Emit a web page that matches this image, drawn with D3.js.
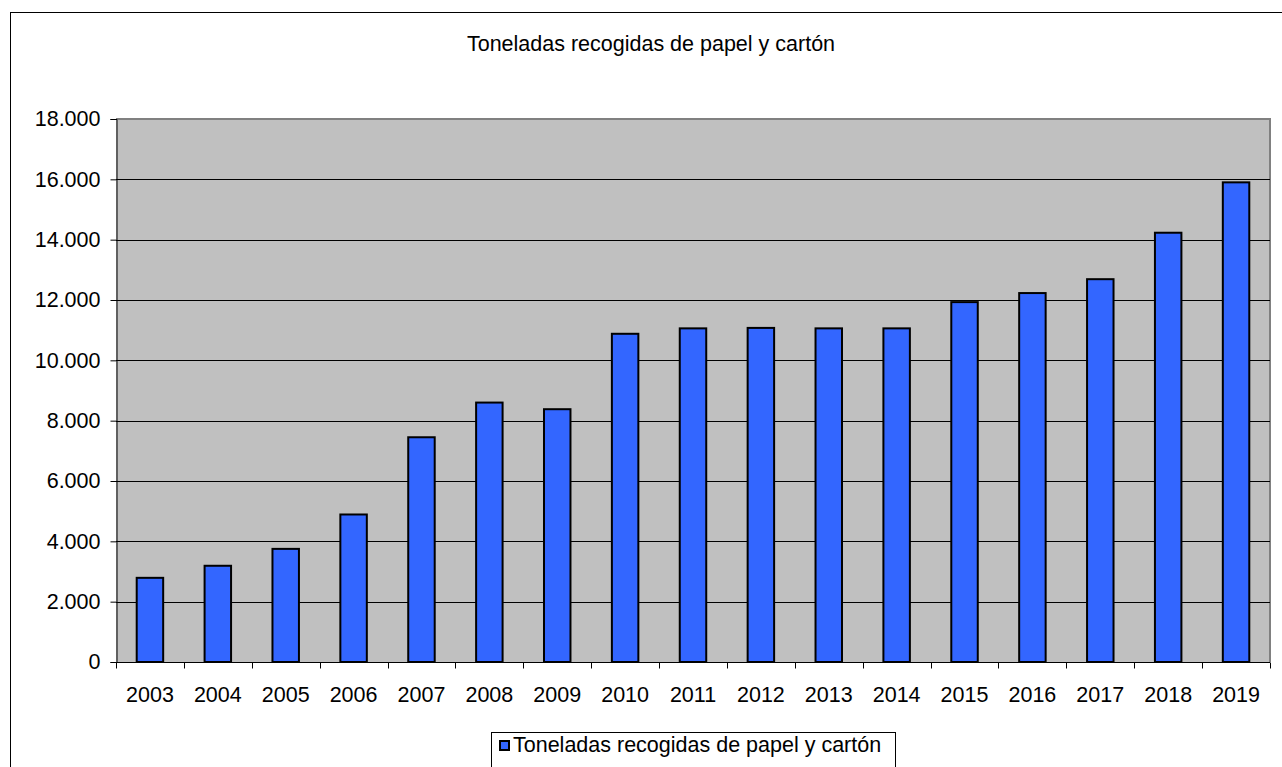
<!DOCTYPE html>
<html>
<head>
<meta charset="utf-8">
<script src="https://cdn.jsdelivr.net/npm/d3@7"></script>
<style>
  body { margin: 0; background: #fff; }
  svg { display: block; font-family: "Liberation Sans", Arial, sans-serif; }
</style>
</head>
<body>
<div id="chart"></div>
<script>
const titulo = "Toneladas recogidas de papel y cartón";
const anios = ["2003", "2004", "2005", "2006", "2007", "2008", "2009", "2010", "2011",
  "2012", "2013", "2014", "2015", "2016", "2017", "2018", "2019"];
const toneladas = [2790, 3190, 3750, 4890, 7450, 8600, 8380, 10880, 11060,
  11075, 11060, 11060, 11930, 12230, 12690, 14230, 15900];
const ticksY = [0, 2000, 4000, 6000, 8000, 10000, 12000, 14000, 16000, 18000];

const width = 1282;
const height = 767;
const plot = { left: 116, top: 119, right: 1270, bottom: 662 };
const tam = "21.5px";

const es = d3.formatLocale({ decimal: ",", thousands: ".", grouping: [3], currency: ["", " €"] });
const fmt = es.format(",d");

const svg = d3.select("#chart")
  .append("svg")
  .attr("width", width)
  .attr("height", height);

// marco exterior
svg.append("rect")
  .attr("x", 10.5).attr("y", 12.5)
  .attr("width", 1282).attr("height", 800)
  .attr("fill", "#fff")
  .attr("stroke", "#000");

svg.append("text")
  .attr("x", 651).attr("y", 51)
  .attr("text-anchor", "middle")
  .style("font-size", tam)
  .text(titulo);

const x = d3.scaleBand()
  .domain(anios)
  .range([plot.left, plot.right])
  .paddingInner(0.61)
  .paddingOuter(0.305);

const y = d3.scaleLinear()
  .domain([0, 18000])
  .range([plot.bottom, plot.top]);

// fondo del área de trazado
svg.append("rect")
  .attr("x", plot.left).attr("y", plot.top)
  .attr("width", plot.right - plot.left)
  .attr("height", plot.bottom - plot.top)
  .attr("fill", "#c0c0c0");

svg.append("path")
  .attr("d", `M${plot.left},${plot.top}H${plot.right}V${plot.bottom}`)
  .attr("fill", "none")
  .attr("stroke", "#808080")
  .attr("stroke-width", 2);

// líneas de división
svg.append("g")
  .selectAll("line")
  .data(ticksY.filter(d => d > 0 && d < 18000))
  .enter()
  .append("line")
  .attr("x1", plot.left).attr("x2", plot.right)
  .attr("y1", d => Math.round(y(d)) + 0.5)
  .attr("y2", d => Math.round(y(d)) + 0.5)
  .attr("stroke", "#000");

svg.append("g")
  .selectAll("rect")
  .data(anios)
  .enter()
  .append("rect")
  .attr("x", d => x(d))
  .attr("y", (d, i) => y(toneladas[i]))
  .attr("width", x.bandwidth())
  .attr("height", (d, i) => y(0) - y(toneladas[i]))
  .attr("fill", "#3366ff")
  .attr("stroke", "#000")
  .attr("stroke-width", 2);

// eje Y
const ejeY = svg.append("g")
  .attr("transform", `translate(${plot.left + 0.5},0)`)
  .call(d3.axisLeft(y).tickValues(ticksY).tickFormat(fmt).tickSize(6).tickPadding(10));
ejeY.select(".domain").attr("stroke", "#000");
ejeY.selectAll("text").style("font-size", tam).attr("fill", "#000");

// eje X: marcas en los límites de las categorías
const ejeX = svg.append("g")
  .attr("transform", `translate(0,${plot.bottom + 0.5})`)
  .call(d3.axisBottom(x).tickSize(0).tickPadding(24));
ejeX.select(".domain").attr("d", `M${plot.left},0H${plot.right}`).attr("stroke", "#000");
ejeX.selectAll("text").style("font-size", tam).attr("fill", "#000");
ejeX.selectAll(".limite")
  .data(d3.range(anios.length + 1))
  .enter()
  .append("line")
  .attr("x1", i => Math.round(plot.left + i * x.step()) + 0.5)
  .attr("x2", i => Math.round(plot.left + i * x.step()) + 0.5)
  .attr("y1", 0).attr("y2", 6)
  .attr("stroke", "#000");

// leyenda
const leyenda = svg.append("g");
leyenda.append("rect")
  .attr("x", 491.5).attr("y", 732.5)
  .attr("width", 404).attr("height", 50)
  .attr("fill", "#fff")
  .attr("stroke", "#000");
leyenda.append("rect")
  .attr("x", 500).attr("y", 741)
  .attr("width", 9).attr("height", 9)
  .attr("fill", "#3366ff")
  .attr("stroke", "#000")
  .attr("stroke-width", 2);
leyenda.append("text")
  .attr("x", 513).attr("y", 752)
  .style("font-size", tam)
  .text(titulo);
</script>
</body>
</html>
